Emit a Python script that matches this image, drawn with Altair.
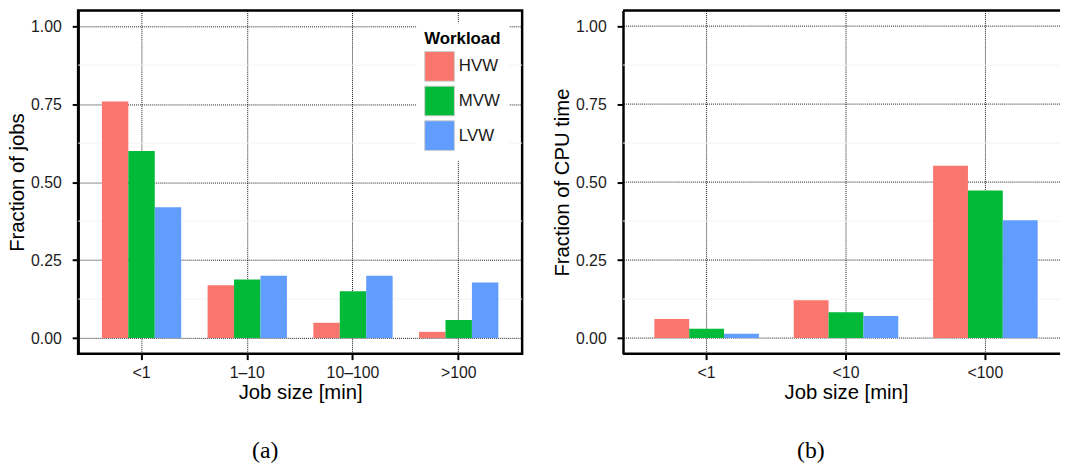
import altair as alt
import pandas as pd

# ---------------- data ----------------
workloads = ["HVW", "MVW", "LVW"]
colors = ["#F8766D", "#00BA38", "#619CFF"]

sizes_a = ["<1", "1–10", "10–100", ">100"]
hvw_a = [0.758, 0.169, 0.049, 0.020]
mvw_a = [0.600, 0.188, 0.150, 0.058]
lvw_a = [0.419, 0.200, 0.200, 0.178]

sizes_b = ["<1", "<10", "<100"]
hvw_b = [0.061, 0.121, 0.552]
mvw_b = [0.030, 0.083, 0.473]
lvw_b = [0.014, 0.071, 0.378]

y_ticks = [0, 0.25, 0.5, 0.75, 1.0]
y_minor = [0.125, 0.375, 0.625, 0.875]
y_domain = [-0.05, 1.05]

FONT = "Liberation Sans"
SERIF = "Liberation Serif"


def long_df(sizes, h, m, l):
    rows = []
    for wl, vals in zip(workloads, [h, m, l]):
        for s, v in zip(sizes, vals):
            rows.append({"size": s, "workload": wl, "value": v})
    return pd.DataFrame(rows)


def panel(df, sizes, ytitle, caption, width, x_range, legend, open_right):
    xscale = alt.Scale(paddingInner=0.25, paddingOuter=0.225)
    if x_range is not None:
        xscale = alt.Scale(paddingInner=0.25, paddingOuter=0.225, range=x_range)
    x = alt.X(
        "size:N",
        sort=sizes,
        scale=xscale,
        axis=alt.Axis(
            title="Job size [min]",
            labelAngle=0,
            grid=True,
            bandPosition=0.5,
            labelPadding=5,
            titlePadding=2,
        ),
    )
    y_axis = alt.Axis(
        title=ytitle,
        values=y_ticks,
        format=".2f",
        labelPadding=11,
        titlePadding=3,
        grid=not open_right,
    )
    y = alt.Y(
        "value:Q",
        scale=alt.Scale(domain=y_domain, nice=False, zero=False),
        axis=y_axis,
    )
    minor = (
        alt.Chart(pd.DataFrame({"value": y_minor}))
        .mark_rule(color="#f3f3f3", strokeWidth=1)
        .encode(y=y)
    )
    bars = (
        alt.Chart(df)
        .mark_bar()
        .encode(
            x=x,
            y=y,
            xOffset=alt.XOffset(
                "workload:N",
                sort=workloads,
                scale=alt.Scale(paddingInner=0, paddingOuter=0),
            ),
            color=alt.Color(
                "workload:N",
                sort=workloads,
                scale=alt.Scale(domain=workloads, range=colors),
                legend=legend,
            ),
        )
    )
    if open_right:
        major = (
            alt.Chart(pd.DataFrame({"value": y_ticks}))
            .mark_rule(color="black", strokeWidth=1, strokeDash=[1, 1], opacity=0.9)
            .encode(y=y)
        )
        borders = (
            alt.Chart(pd.DataFrame({"value": y_domain}))
            .mark_rule(color="black", strokeWidth=2.5)
            .encode(y=y)
        )
        layers = [minor, major, bars, borders]
        view = alt.ViewBackground(stroke=None)
    else:
        layers = [minor, bars]
        view = alt.ViewBackground(stroke="black", strokeWidth=2.5)
    return alt.layer(*layers).properties(
        width=width,
        height=347,
        view=view,
        title=alt.TitleParams(
            text=caption,
            orient="bottom",
            anchor="middle",
            frame="bounds",
            font=SERIF,
            fontSize=24,
            fontWeight="normal",
            color="black",
            baseline="top",
            offset=37,
        ),
    )


legend_a = alt.Legend(
    title="Workload",
    orient="none",
    legendX=342,
    legendY=13,
    direction="vertical",
    titleFont=FONT,
    titleFontSize=17,
    titleFontWeight="bold",
    titleColor="black",
    titlePadding=3,
    labelFont=FONT,
    labelFontSize=17,
    labelColor="#1a1a1a",
    labelOffset=4,
    symbolType="square",
    symbolSize=900,
    symbolStrokeColor="#cccccc",
    symbolStrokeWidth=1,
    symbolOpacity=1,
    rowPadding=0,
    padding=8,
    fillColor="white",
)

chart_a = panel(long_df(sizes_a, hvw_a, mvw_a, lvw_a), sizes_a, "Fraction of jobs", "(a)",
                449, None, legend_a, False)
chart_b = panel(long_df(sizes_b, hvw_b, mvw_b, lvw_b), sizes_b, "Fraction of CPU time", "(b)",
                442, [0, 451], None, True)

chart = (
    alt.hconcat(chart_a, chart_b, spacing=28)
    .resolve_legend(color="independent")
    .resolve_scale(xOffset="independent")
    .properties(padding={"left": 6, "top": 6, "right": 0, "bottom": 2}, background="white")
    .configure_view(stroke=None)
    .configure_axis(
        labelFont=FONT,
        labelFontSize=16,
        labelColor="#1a1a1a",
        titleFont=FONT,
        titleFontSize=20.5,
        titleFontWeight="normal",
        titleColor="black",
        tickColor="black",
        tickWidth=2,
        tickSize=6,
        gridColor="black",
        gridDash=[1, 1],
        gridWidth=1,
        gridOpacity=0.9,
    )
    .configure_axisX(domain=False)
    .configure_axisY(domain=True, domainColor="black", domainWidth=2.5)
)

chart.save("out.html", embed_options={"renderer": "svg", "actions": False})
